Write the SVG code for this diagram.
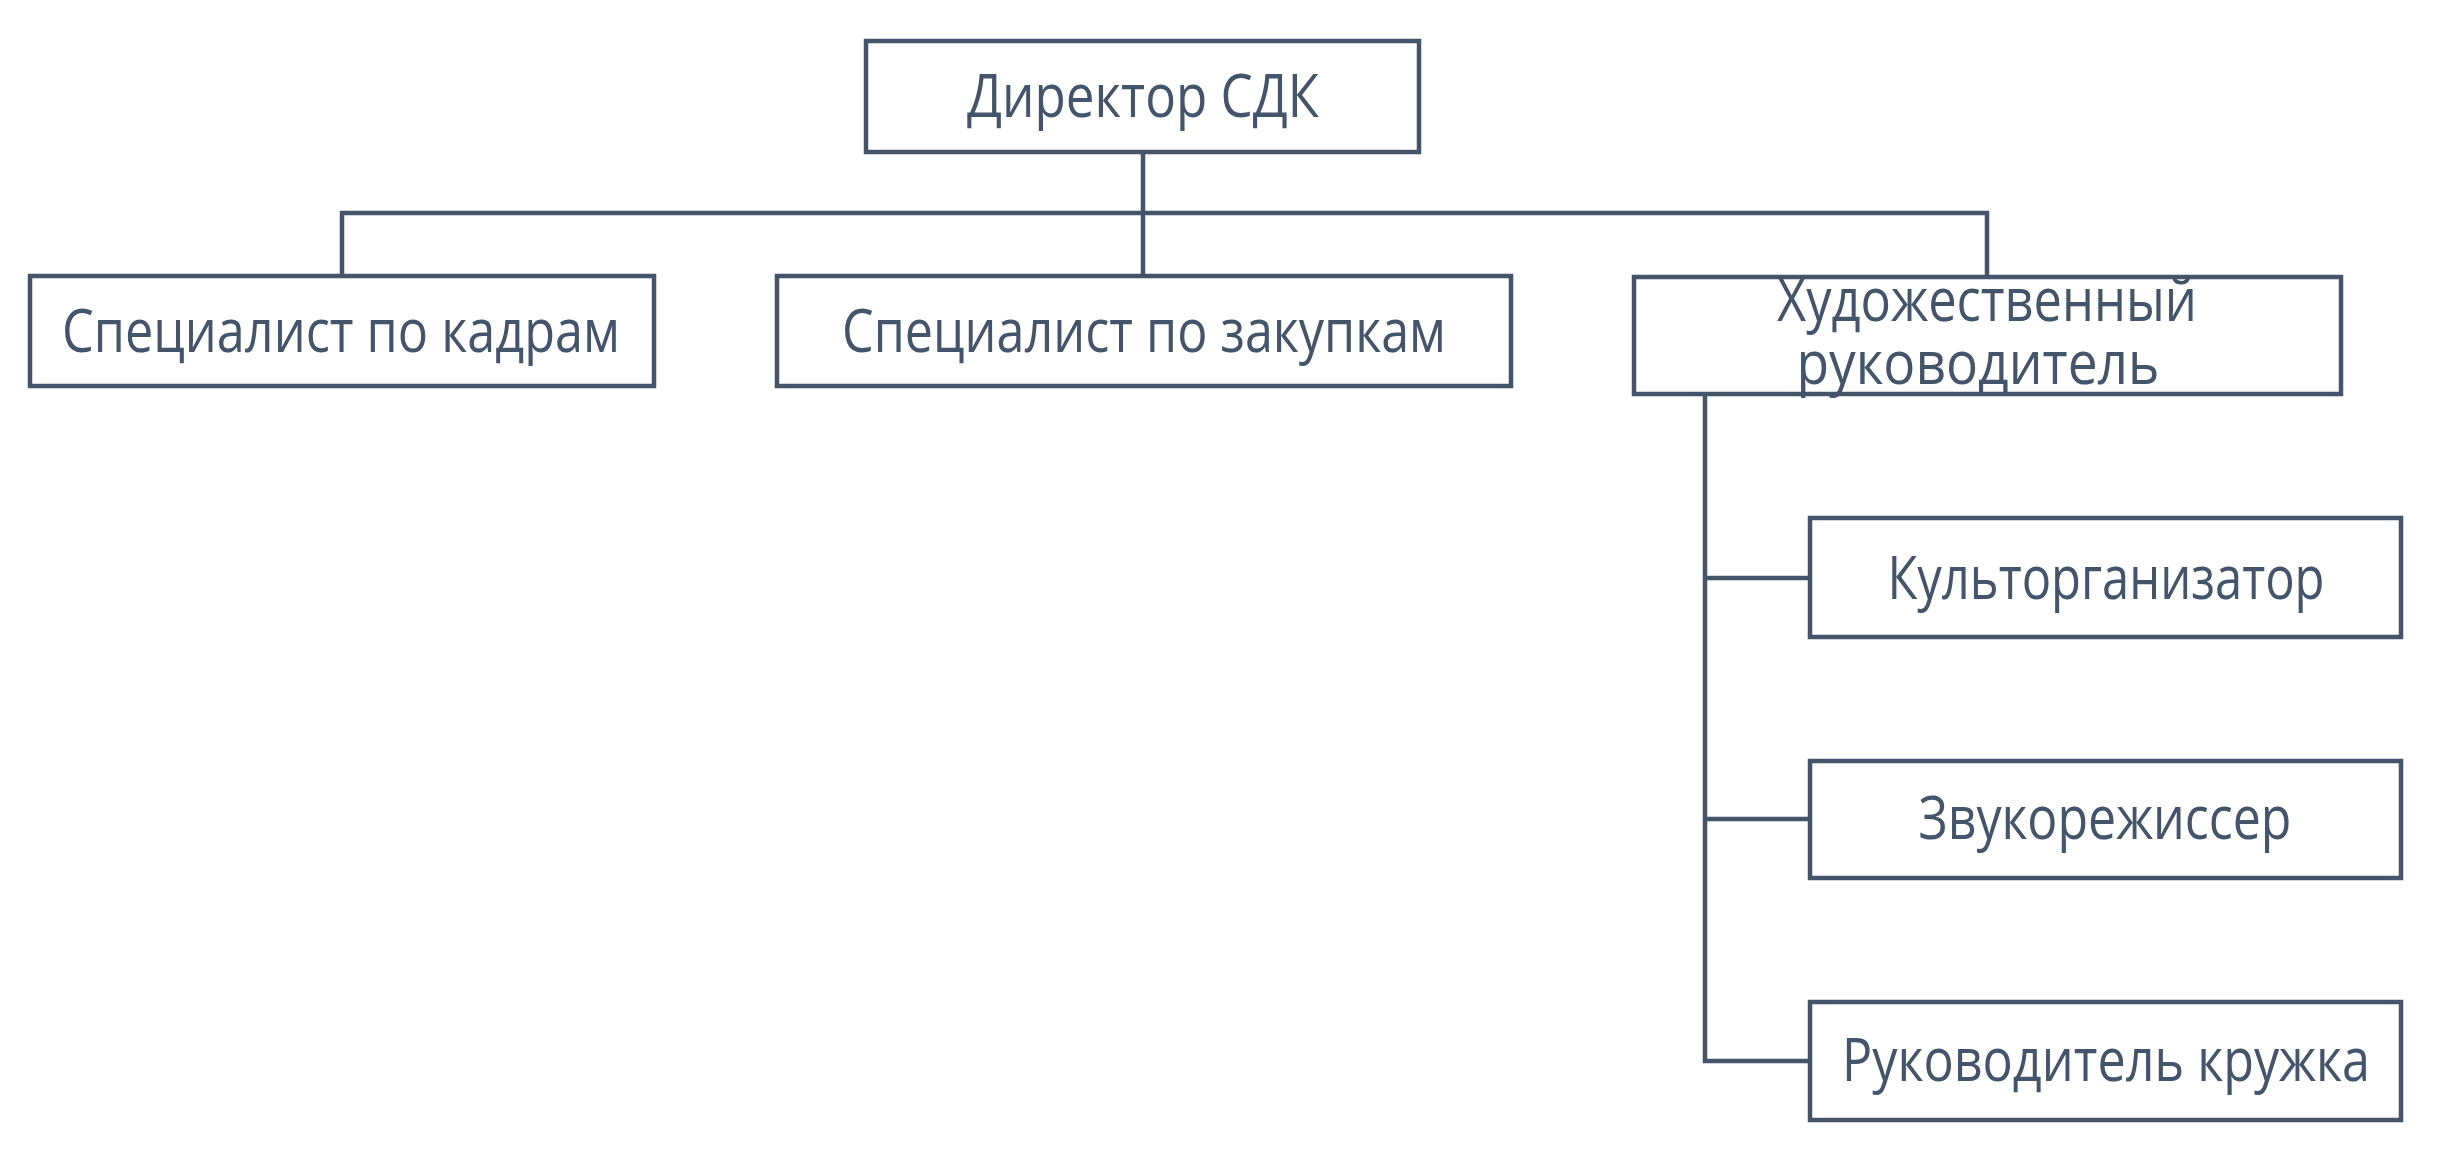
<svg xmlns="http://www.w3.org/2000/svg" width="2442" height="1165" viewBox="0 0 2442 1165">
<style>
.box{fill:#FFFFFF;stroke:#44546A;stroke-width:4.5}
.lbl{font-family:"Open Sans","Liberation Sans",sans-serif;font-size:60px;fill:#44546A;text-anchor:middle}
.conn{fill:none;stroke:#44546A;stroke-width:4.5}
</style>
<rect width="2442" height="1165" fill="#FFFFFF"/>
<g id="connectors">
<path class="conn" d="M1143 151 V276"/>
<path class="conn" d="M342 276 V213 H1987 V276"/>
<path class="conn" d="M1705 394 V1061 H1810"/>
<path class="conn" d="M1705 578 H1810"/>
<path class="conn" d="M1705 819 H1810"/>
</g>
<g id="director">
<rect class="box" x="866" y="41" width="553" height="111"/>
<text class="lbl" x="1143" y="117" textLength="352" lengthAdjust="spacingAndGlyphs">Директор СДК</text>
</g>
<g id="hr">
<rect class="box" x="30" y="276" width="624" height="110"/>
<text class="lbl" x="341" y="352" textLength="558" lengthAdjust="spacingAndGlyphs">Специалист по кадрам</text>
</g>
<g id="purchasing">
<rect class="box" x="777" y="276" width="734" height="110"/>
<text class="lbl" x="1144" y="352" textLength="604" lengthAdjust="spacingAndGlyphs">Специалист по закупкам</text>
</g>
<g id="artdirector">
<rect class="box" x="1634" y="277" width="707" height="117"/>
<text class="lbl" x="1987" y="321" textLength="420" lengthAdjust="spacingAndGlyphs">Художественный</text>
<text class="lbl" x="1978" y="384" textLength="363" lengthAdjust="spacingAndGlyphs">руководитель</text>
</g>
<g id="culture">
<rect class="box" x="1810" y="518" width="591" height="119"/>
<text class="lbl" x="2106" y="599" textLength="437" lengthAdjust="spacingAndGlyphs">Культорганизатор</text>
</g>
<g id="sound">
<rect class="box" x="1810" y="761" width="591" height="117"/>
<text class="lbl" x="2105" y="839" textLength="373" lengthAdjust="spacingAndGlyphs">Звукорежиссер</text>
</g>
<g id="club">
<rect class="box" x="1810" y="1002" width="591" height="118"/>
<text class="lbl" x="2106" y="1081" textLength="528" lengthAdjust="spacingAndGlyphs">Руководитель кружка</text>
</g>
</svg>
